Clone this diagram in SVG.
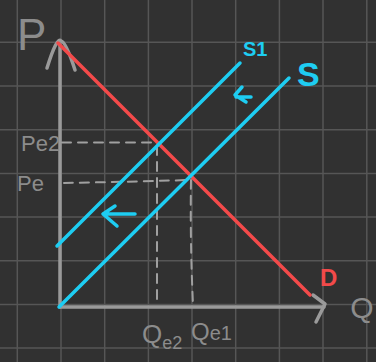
<svg xmlns="http://www.w3.org/2000/svg" width="376" height="362" viewBox="0 0 376 362">
<defs>
<style>
.grid{stroke:#565656;stroke-width:1.5;fill:none}
.axis{stroke:#9a9a9a;stroke-width:3.5;fill:none;stroke-linecap:round;stroke-linejoin:round}
.dash{stroke:#a0a0a0;stroke-width:2;fill:none;stroke-dasharray:9 7;stroke-linecap:round}
.blue{stroke:#1ecdf2;stroke-width:3.5;fill:none;stroke-linecap:round;stroke-linejoin:round}
.red{stroke:#f24a4a;stroke-width:3.5;fill:none;stroke-linecap:round}
.lbl{font-family:"Liberation Sans",Arial,sans-serif;fill:#8c8c8c}
.lblb{font-family:"Liberation Sans",Arial,sans-serif;fill:#1ecdf2;font-weight:bold}
.lblr{font-family:"Liberation Sans",Arial,sans-serif;fill:#f24a4a;font-weight:bold}
</style>
</defs>
<rect width="376" height="362" fill="#313131"/>
<g id="grid" class="grid">
<path d="M17.3 0V362M61 0V362M104.7 0V362M148.4 0V362M192 0V362M235.7 0V362M279.4 0V362M323 0V362M366.8 0V362"/>
<path d="M0 -1.4H376M0 42.3H376M0 86H376M0 129.7H376M0 173.4H376M0 217H376M0 260.7H376M0 304.4H376M0 348H376"/>
</g>
<g id="axes">
<path class="axis" d="M60 307V44"/>
<path class="axis" d="M60 307H324"/>
<path class="axis" d="M47 68Q57 36 61 41Q66 42 75 70"/>
<path class="axis" d="M313 295L325 304L316 322"/>
</g>
<g id="connectors">
<path class="dash" d="M62 142.5H157"/>
<path class="dash" d="M157 146V306"/>
<path class="dash" d="M64 183Q120 182 189 180"/>
<path class="dash" d="M191 180Q190 240 193 305"/>
</g>
<g id="demand">
<path class="red" d="M58 43L310 295"/>
</g>
<g id="supply">
<path class="blue" d="M59 307L289 78"/>
</g>
<g id="supply1">
<path class="blue" d="M57 246L240 63"/>
</g>
<g id="shift-arrows">
<path class="blue" d="M251 97H236M242 87L235 95L246 102"/>
<path class="blue" d="M135 214H104M115 206L103 214L117 226"/>
</g>
<g id="labels">
<text class="lbl" x="17" y="50" font-size="44">P</text>
<text class="lbl" x="362" y="318" font-size="30" text-anchor="middle">Q</text>
<text class="lbl" x="21" y="151" font-size="22">Pe2</text>
<text class="lbl" x="17" y="191" font-size="22">Pe</text>
<text class="lbl" x="142" y="343" font-size="26">Q<tspan font-size="18" dy="6">e2</tspan></text>
<text class="lbl" x="191" y="340" font-size="24">Q<tspan font-size="20">e1</tspan></text>
<text class="lblb" x="243" y="56" font-size="20">S1</text>
<text class="lblb" x="297" y="86" font-size="34">S</text>
<text class="lblr" x="320" y="286" font-size="24">D</text>
</g>
</svg>
